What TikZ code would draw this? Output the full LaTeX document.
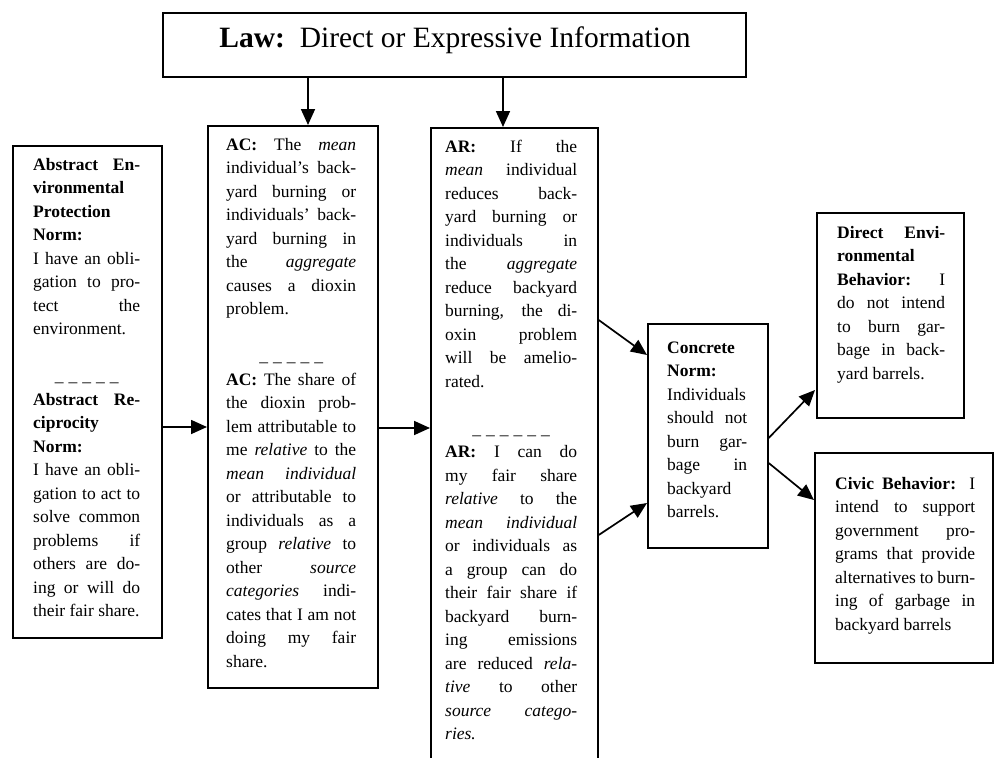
\documentclass[tikz,border=0pt]{standalone}
\usepackage{fontspec}
\setmainfont{Liberation Serif}
\usetikzlibrary{arrows.meta}
\newcommand{\J}[1]{\hbox to\hsize{#1}}
\newcommand{\Ln}[1]{\hbox{#1}}
\newcommand{\Dsh}[1]{\hbox to\hsize{\hfil#1\hfil}}
\newcommand{\dfive}{\_\kern5pt\_\kern5pt\_\kern5pt\_\kern5pt\_}
\newcommand{\dsix}{\_\kern5pt\_\kern5pt\_\kern5pt\_\kern5pt\_\kern5pt\_}
\begin{document}
\begin{tikzpicture}[x=1pt,y=1pt,
  boxst/.style={draw, line width=1.7pt, anchor=north west, inner sep=0pt, rectangle},
  txt/.style={anchor=base west, inner sep=0pt, font=\fontsize{17.5}{23.5}\selectfont},
  arr/.style={line width=1.7pt, -{Triangle[length=16pt,width=14pt]}}]
\useasboundingbox (0,0) rectangle (997,-758);
\clip (0,0) rectangle (997,-758);

% boxes
\node[boxst, minimum width=583pt, minimum height=64pt] (title) at (162,-12) {};
\node[boxst, minimum width=149pt, minimum height=492pt] (lbox) at (12,-145) {};
\node[boxst, minimum width=170pt, minimum height=562pt] (ac) at (207,-125) {};
\node[boxst, minimum width=167pt, minimum height=660pt] (ar) at (430,-127) {};
\node[boxst, minimum width=120pt, minimum height=224pt] (con) at (647,-323) {};
\node[boxst, minimum width=147pt, minimum height=205pt] (dir) at (816,-212) {};
\node[boxst, minimum width=178pt, minimum height=210pt] (civ) at (814,-452) {};

% title text
\node[anchor=base, inner sep=0pt, font=\fontsize{29.5}{34}\selectfont] (titletext) at (455,-47)
  {\textbf{Law:}\ \ Direct or Expressive Information};

% left box text
\node[txt] (lt) at (33,-170) {\vtop{\hsize=107pt
\J{\textbf{Abstract En-}}
\Ln{\textbf{vironmental}}
\Ln{\textbf{Protection}}
\Ln{\textbf{Norm:}}
\J{I have an obli-}
\J{gation to pro-}
\J{tect the}
\Ln{environment.}
\hbox{}
\Dsh{\dfive}
\J{\textbf{Abstract Re-}}
\Ln{\textbf{ciprocity}}
\Ln{\textbf{Norm:}}
\J{I have an obli-}
\J{gation to act to}
\J{solve common}
\J{problems if}
\J{others are do-}
\J{ing or will do}
\Ln{their fair share.}
}};

% AC box text
\node[txt] (act) at (226,-150) {\vtop{\hsize=130pt
\J{\textbf{AC:} The \emph{mean}}
\J{individual's back-}
\J{yard burning or}
\J{individuals' back-}
\J{yard burning in}
\J{the \emph{aggregate}}
\J{causes a dioxin}
\Ln{problem.}
\hbox{}
\Dsh{\dfive}
\J{\textbf{AC:} The share of}
\J{the dioxin prob-}
\J{lem attributable to}
\J{me \emph{relative} to the}
\J{\emph{mean individual}}
\J{or attributable to}
\J{individuals as a}
\J{group \emph{relative} to}
\J{other \emph{source}}
\J{\emph{categories} indi-}
\J{cates that I am not}
\J{doing my fair}
\Ln{share.}
}};

% AR box text
\node[txt] (art) at (445,-152) {\vtop{\hsize=132pt
\J{\textbf{AR:} If the}
\J{\emph{mean} individual}
\J{reduces back-}
\J{yard burning or}
\J{individuals in}
\J{the \emph{aggregate}}
\J{reduce backyard}
\J{burning, the di-}
\J{oxin problem}
\J{will be amelio-}
\Ln{rated.}
\hbox{}
\Dsh{\dsix}
\J{\textbf{AR:} I can do}
\J{my fair share}
\J{\emph{relative} to the}
\J{\emph{mean individual}}
\J{or individuals as}
\J{a group can do}
\J{their fair share if}
\J{backyard burn-}
\J{ing emissions}
\J{are reduced \emph{rela-}}
\J{\emph{tive} to other}
\J{\emph{source catego-}}
\Ln{\emph{ries.}}
}};

% Concrete norm text
\node[txt] (cont) at (667,-353) {\vtop{\hsize=80pt
\Ln{\textbf{Concrete}}
\Ln{\textbf{Norm:}}
\Ln{Individuals}
\J{should not}
\J{burn gar-}
\J{bage in}
\Ln{backyard}
\Ln{barrels.}
}};

% Direct behavior text
\node[txt] (dirt) at (837,-238) {\vtop{\hsize=108pt
\J{\textbf{Direct Envi-}}
\Ln{\textbf{ronmental}}
\J{\textbf{Behavior:} I}
\J{do not intend}
\J{to burn gar-}
\J{bage in back-}
\Ln{yard barrels.}
}};

% Civic behavior text
\node[txt] (civt) at (835,-489) {\vtop{\hsize=140pt
\J{\textbf{Civic Behavior:} I}
\J{intend to support}
\J{government pro-}
\J{grams that provide}
\J{alternatives to burn-}
\J{ing of garbage in}
\Ln{backyard barrels}
}};

% arrows
\draw[arr] ([xshift=146pt]title.south west) -- ([xshift=101pt]ac.north west);
\draw[arr] ([xshift=341pt]title.south west) -- ([xshift=73pt]ar.north west);
\draw[arr] ([yshift=-282pt]lbox.north east) -- ([yshift=-302pt]ac.north west);
\draw[arr] ([yshift=-303pt]ac.north east) -- ([yshift=-301pt]ar.north west);
\draw[arr] ([yshift=-193pt]ar.north east) -- ([yshift=-32pt]con.north west);
\draw[arr] ([yshift=-408pt]ar.north east) -- ([yshift=-180pt]con.north west);
\draw[arr] ([yshift=-115pt]con.north east) -- ([xshift=-1pt,yshift=-178pt]dir.north west);
\draw[arr] ([yshift=-140pt]con.north east) -- ([yshift=-48pt]civ.north west);
\end{tikzpicture}
\end{document}
